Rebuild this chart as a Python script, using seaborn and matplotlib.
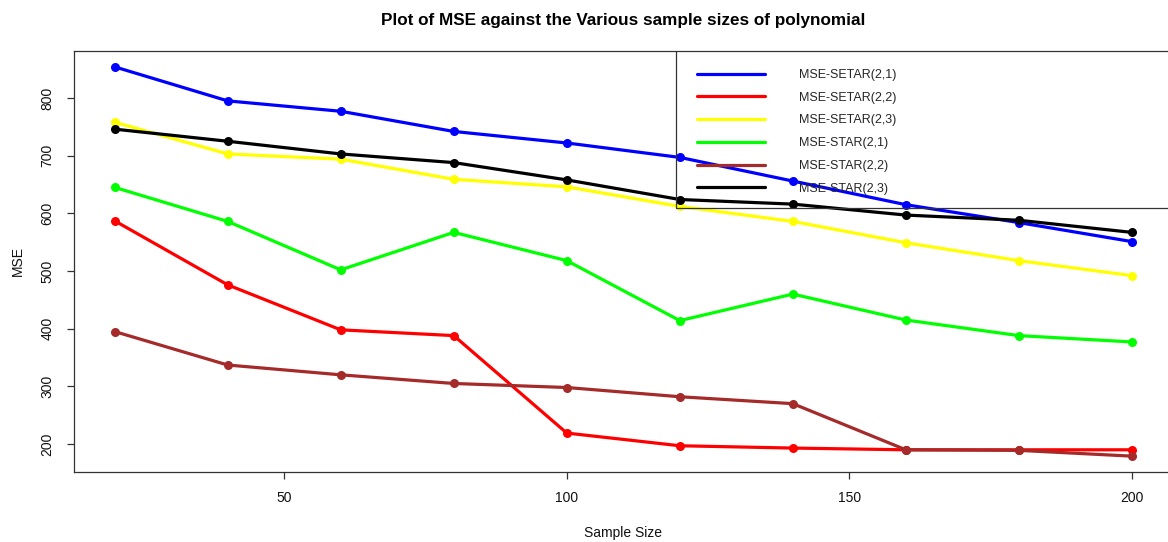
import matplotlib
matplotlib.use("Agg")
import matplotlib.pyplot as plt
from matplotlib.patches import Rectangle
from matplotlib.lines import Line2D
import seaborn as sns
import pandas as pd

sample_size = [20, 40, 60, 80, 100, 120, 140, 160, 180, 200]
setar_21 = [854, 795, 777, 742, 722, 697, 656, 615, 584, 551]
setar_22 = [587, 476, 398, 388, 219, 197, 193, 190, 190, 190]
setar_23 = [758, 703, 694, 659, 646, 612, 586, 549, 518, 492]
star_21 = [645, 586, 502, 567, 518, 414, 460, 415, 388, 377]
star_22 = [395, 337, 320, 305, 298, 282, 270, 190, 189, 179]
star_23 = [746, 725, 703, 688, 658, 624, 616, 597, 588, 567]

series_names = ["MSE-SETAR(2,1)", "MSE-SETAR(2,2)", "MSE-SETAR(2,3)",
                "MSE-STAR(2,1)", "MSE-STAR(2,2)", "MSE-STAR(2,3)"]
series_values = [setar_21, setar_22, setar_23, star_21, star_22, star_23]
colors = ["#0000FF", "#FF0000", "#FFFF00", "#00FF00", "#A52A2A", "#000000"]

title = "Plot of MSE against the Various sample sizes of polynomial"
x_label = "Sample Size"
y_label = "MSE"
x_ticks = [50, 100, 150, 200]
y_ticks = [200, 300, 400, 500, 600, 700, 800]

rows = []
for name, vals in zip(series_names, series_values):
    for s, v in zip(sample_size, vals):
        rows.append({"Sample Size": s, "MSE": v, "Series": name})
df = pd.DataFrame(rows)

sns.set_style("white")
plt.rcParams["font.family"] = ["Liberation Sans", "DejaVu Sans"]

fig = plt.figure(figsize=(11.68, 5.42), dpi=100)
ax = fig.add_axes([74 / 1168, 1 - 472 / 542, (1172.6 - 74) / 1168, (472 - 51) / 542])

sns.lineplot(data=df, x="Sample Size", y="MSE", hue="Series",
             hue_order=series_names, palette=colors, marker="o",
             markersize=6.5, markeredgewidth=0, linewidth=2.3, ax=ax, legend=False)

ax.set_xlim(12.8, 207.2)
ax.set_ylim(151.5, 881.5)
ax.set_xticks(x_ticks)
ax.set_yticks(y_ticks)
ax.tick_params(axis="both", which="major", bottom=True, left=True, direction="out",
               length=5, width=0.9, color="#333333", labelsize=10, labelcolor="#111111")
ax.tick_params(axis="x", pad=9)
ax.tick_params(axis="y", pad=9)
for lab in ax.get_yticklabels():
    lab.set_rotation(90)
    lab.set_va("center")
for sp in ax.spines.values():
    sp.set_color("#333333")
    sp.set_linewidth(0.9)

ax.set_xlabel(x_label, fontsize=10, labelpad=15, color="#111111")
ax.set_ylabel(y_label, fontsize=10, labelpad=11, color="#111111")
ax.set_title(title, fontsize=12.3, fontweight="bold", pad=19, color="black")

# legend frame
box_left = (676 - 74) / 1098.6
box_bottom = 1 - (208 - 51) / 421
ax.add_patch(Rectangle((box_left, box_bottom), 1 - box_left + 0.01, 1 - box_bottom + 0.01,
                       transform=ax.transAxes, fill=False, edgecolor="#333333",
                       linewidth=0.9, zorder=5))
handles = [Line2D([], [], color=c, linewidth=2.3) for c in colors]
leg = ax.legend(handles, series_names, loc="upper left",
                bbox_to_anchor=((697 - 74) / 1098.6, 1 - (69 - 51) / 421),
                frameon=False, fontsize=9, handlelength=5.4, handletextpad=2.76,
                labelspacing=0.86, borderaxespad=0, borderpad=0)
leg.set_zorder(6)

fig.savefig("out.png", dpi=100)
